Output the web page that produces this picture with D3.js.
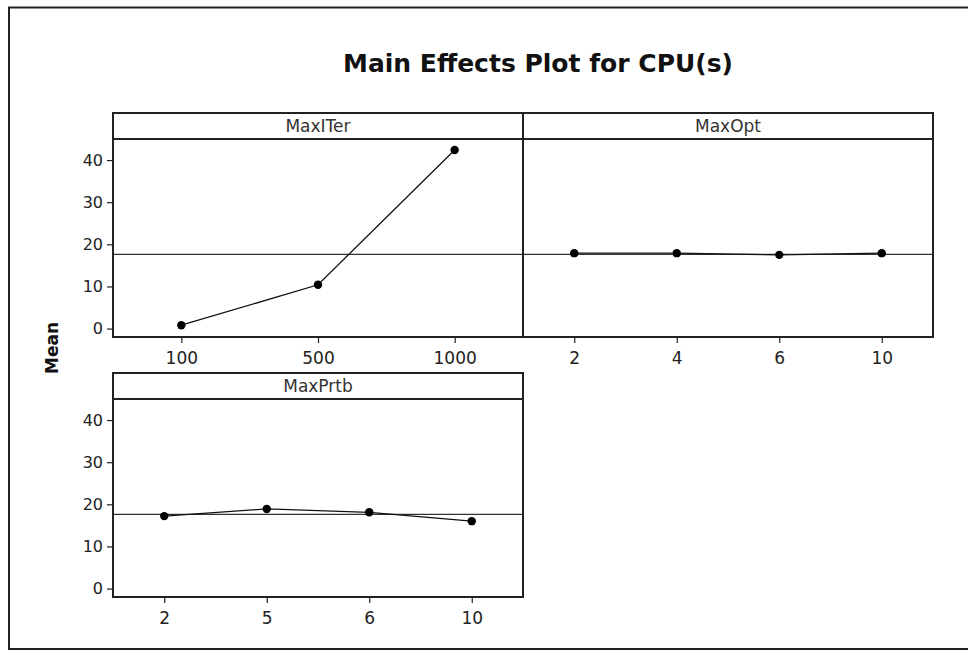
<!DOCTYPE html>
<html>
<head>
<meta charset="utf-8">
<script src="https://cdn.jsdelivr.net/npm/d3@7"></script>
<style>
  html, body { margin: 0; padding: 0; background: #fff; }
  svg { display: block; }
  text { font-family: "DejaVu Sans", Verdana, sans-serif; fill: #222; }
</style>
</head>
<body>
<svg id="chart" width="968" height="650"></svg>
<script>
// Factor levels and mean CPU(s) response at each level
const maxIterLevels = ["100", "500", "1000"];
const maxIterMeans  = [0.8, 10.4, 42.4];

const maxOptLevels  = ["2", "4", "6", "10"];
const maxOptMeans   = [17.9, 17.9, 17.5, 17.9];

const maxPrtbLevels = ["2", "5", "6", "10"];
const maxPrtbMeans  = [17.2, 18.9, 18.1, 16.0];

const grandMean = 17.6;
const yTicks = [0, 10, 20, 30, 40];

const panels = [
  { name: "MaxITer", levels: maxIterLevels, means: maxIterMeans, col: 0, row: 0, yAxis: true },
  { name: "MaxOpt",  levels: maxOptLevels,  means: maxOptMeans,  col: 1, row: 0, yAxis: false },
  { name: "MaxPrtb", levels: maxPrtbLevels, means: maxPrtbMeans, col: 0, row: 1, yAxis: true }
];

const svg = d3.select("#chart");

// outer frame
svg.append("rect")
  .attr("x", 9).attr("y", 7.5)
  .attr("width", 980).attr("height", 641.5)
  .attr("fill", "none").attr("stroke", "#222").attr("stroke-width", 2);

// title
svg.append("text")
  .attr("x", 538).attr("y", 72)
  .attr("text-anchor", "middle")
  .style("font-size", "25px").style("font-weight", "bold")
  .style("fill", "#111")
  .text("Main Effects Plot for CPU(s)");

// y-axis title
svg.append("text")
  .attr("transform", "translate(58,348) rotate(-90)")
  .attr("text-anchor", "middle")
  .style("font-size", "17px").style("font-weight", "bold")
  .style("fill", "#111")
  .text("Mean");

const colX = [113, 523];
const colW = 410;
const rowTop = [113, 373];
const stripH = 26;
const plotH = 198;

panels.forEach(p => {
  const x0 = colX[p.col];
  const top = rowTop[p.row];
  const plotTop = top + stripH;
  const plotBottom = plotTop + plotH;

  const x = d3.scalePoint().domain(p.levels).range([x0, x0 + colW]).padding(0.5);
  const y = d3.scaleLinear().domain([-2, 45]).range([plotBottom, plotTop]);

  const g = svg.append("g");

  // grand-mean reference line
  g.append("line")
    .attr("x1", x0).attr("x2", x0 + colW)
    .attr("y1", y(grandMean)).attr("y2", y(grandMean))
    .attr("stroke", "#333").attr("stroke-width", 1.3);

  // level means
  const pts = p.levels.map((l, i) => [x(l), y(p.means[i])]);
  g.append("path")
    .attr("d", d3.line()(pts))
    .attr("fill", "none").attr("stroke", "#111").attr("stroke-width", 1.3);
  g.selectAll("circle").data(pts).join("circle")
    .attr("cx", d => d[0]).attr("cy", d => d[1]).attr("r", 4.2)
    .attr("fill", "#000");

  // panel frame and strip
  g.append("rect")
    .attr("x", x0).attr("y", top)
    .attr("width", colW).attr("height", stripH + plotH)
    .attr("fill", "none").attr("stroke", "#222").attr("stroke-width", 2);
  g.append("line")
    .attr("x1", x0).attr("x2", x0 + colW)
    .attr("y1", plotTop).attr("y2", plotTop)
    .attr("stroke", "#222").attr("stroke-width", 2);
  g.append("text")
    .attr("x", x0 + colW / 2).attr("y", top + 19)
    .attr("text-anchor", "middle")
    .style("font-size", "17px").style("fill", "#333")
    .text(p.name);

  // x axis
  const xa = svg.append("g")
    .attr("transform", `translate(0,${plotBottom})`)
    .call(d3.axisBottom(x).tickSize(6).tickPadding(9));
  xa.select(".domain").remove();
  xa.selectAll("line").attr("stroke", "#222").attr("stroke-width", 1.2);
  xa.selectAll("text").style("font-size", "17px").style("fill", "#222")
    .style("font-family", "'DejaVu Sans', Verdana, sans-serif");

  // y axis
  if (p.yAxis) {
    const ya = svg.append("g")
      .attr("transform", `translate(${x0},0)`)
      .call(d3.axisLeft(y).tickValues(yTicks).tickSize(6).tickPadding(4));
    ya.select(".domain").remove();
    ya.selectAll("line").attr("stroke", "#222").attr("stroke-width", 1.2);
    ya.selectAll("text").style("font-size", "16px").style("fill", "#222")
      .style("font-family", "'DejaVu Sans', Verdana, sans-serif");
  }
});
</script>
</body>
</html>
